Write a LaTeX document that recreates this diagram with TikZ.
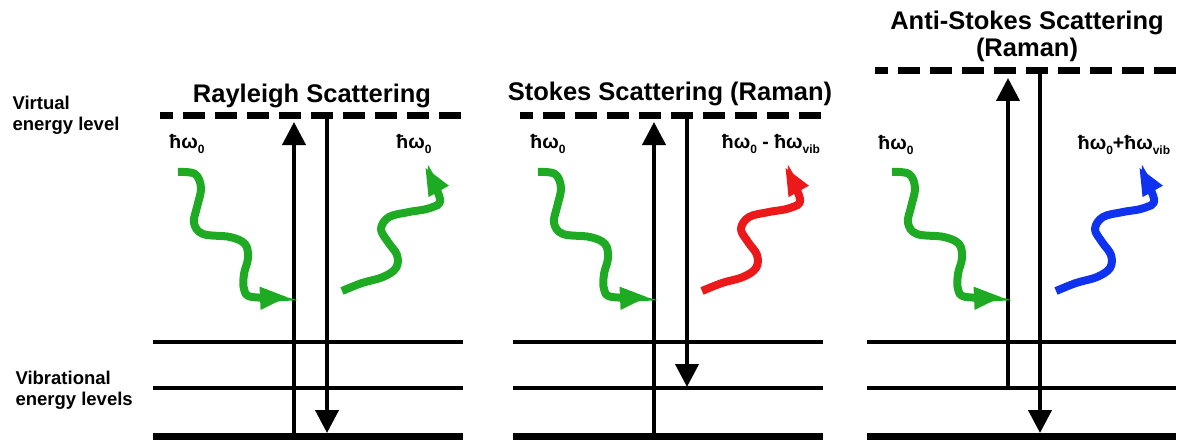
\documentclass[tikz,border=0pt]{standalone}
\usepackage{fontspec}
\setmainfont{Liberation Sans}
\usetikzlibrary{arrows.meta}
\definecolor{wgreen}{RGB}{30,170,35}
\definecolor{wred}{RGB}{235,25,25}
\definecolor{wblue}{RGB}{15,50,240}
\newcommand\inwavepath{plot[smooth, tension=0.6] coordinates {(178,172) (195,174) (201,188) (197,207) (194,223) (203,234) (230,237) (245,244) (248,258) (244,274) (244,289) (252,297) (288,297)}}
\newcommand\outwavepath{plot[smooth, tension=0.6] coordinates {(342,291) (362,283) (383,277) (396,268) (397,255) (388,242) (381,229) (389,217) (409,212) (430,208) (440,199) (425,167)}}
\newcommand\lowsub[1]{\raisebox{-5pt}{\fontsize{12}{12}\selectfont #1}}
\tikzset{
  lvl/.style={line width=3.5pt},
  ground/.style={line width=7pt},
  virt/.style={line width=7pt, dash pattern=on 22pt off 10pt},
  trans/.style={line width=4pt, -{Triangle[length=23pt,width=23pt]}},
  photon/.style={line width=8pt, line cap=butt, -{Triangle[length=28pt,width=21pt]}},
  title/.style={font=\fontsize{25.5}{27}\selectfont\bfseries, align=center},
  side/.style={font=\fontsize{18.5}{21}\selectfont\bfseries, align=left, anchor=west},
  elabel/.style={font=\fontsize{19.5}{20}\selectfont\bfseries},
}
\begin{document}
\begin{tikzpicture}[x=1pt,y=-1pt]
\useasboundingbox (0,0) rectangle (1180,441);

% side labels
\node[side] (virtlab) at (9,115) {Virtual\\energy level};
\node[side] (viblab) at (12,390) {Vibrational\\energy levels};

% titles
\node[title] (t1) at (312,96) {Rayleigh Scattering};
\node[title] (t2) at (670,94) {Stokes Scattering (Raman)};
\node[title] (t3) at (1027,36) {Anti-Stokes Scattering\\(Raman)};

% levels panel 1
\draw[lvl] (153,342) -- (463,342);
\draw[lvl] (153,388) -- (463,388);
\draw[ground] (153,436) -- (463,436);
\draw[virt, dash phase=9pt] (160,116) -- (463,116);
% levels panel 2
\draw[lvl] (513,342) -- (823,342);
\draw[lvl] (513,388) -- (823,388);
\draw[ground] (513,436) -- (823,436);
\draw[virt, dash phase=9pt] (520,116) -- (823,116);
% levels panel 3
\draw[lvl] (867,342) -- (1176,342);
\draw[lvl] (867,388) -- (1176,388);
\draw[ground] (867,436) -- (1176,436);
\draw[virt, dash phase=9pt] (875,71) -- (1176,71);

% transition end points
\coordinate (a1s) at (294,436); \coordinate (a1e) at (294,122);
\coordinate (b1s) at (327,113); \coordinate (b1e) at (327,433);
\coordinate (a2s) at (654,436); \coordinate (a2e) at (654,122);
\coordinate (b2s) at (687,113); \coordinate (b2e) at (687,387);
\coordinate (a3s) at (1008,388); \coordinate (a3e) at (1008,78);
\coordinate (b3s) at (1040,69); \coordinate (b3e) at (1040,433);

\draw[trans] (a1s) -- (a1e);
\draw[trans] (b1s) -- (b1e);
\draw[trans] (a2s) -- (a2e);
\draw[trans] (b2s) -- (b2e);
\draw[trans] (a3s) -- (a3e);
\draw[trans] (b3s) -- (b3e);

% photons
\draw[photon, wgreen] \inwavepath;
\draw[photon, wgreen] \outwavepath;
\draw[photon, wgreen, shift={(360,0)}] \inwavepath;
\draw[photon, wred, shift={(360,0)}] \outwavepath;
\draw[photon, wgreen, shift={(714,0)}] \inwavepath;
\draw[photon, wblue, shift={(714,0)}] \outwavepath;

% photon labels
\node[elabel] (l1a) at (187,144) {ħω\lowsub{0}};
\node[elabel] (l1b) at (414,144) {ħω\lowsub{0}};
\node[elabel] (l2a) at (548,144) {ħω\lowsub{0}};
\node[elabel] (l2b) at (771,144) {ħω\lowsub{0} - ħω\lowsub{vib}};
\node[elabel] (l3a) at (896,145) {ħω\lowsub{0}};
\node[elabel] (l3b) at (1124,145) {ħω\lowsub{0}+ħω\lowsub{vib}};
\end{tikzpicture}
\end{document}
